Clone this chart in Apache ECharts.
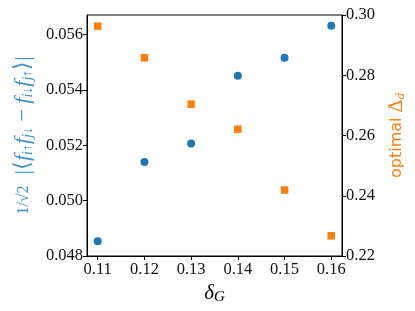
<!DOCTYPE html>
<html><head><meta charset="utf-8">
<script src="https://cdn.jsdelivr.net/npm/echarts@6/dist/echarts.min.js"></script>
<style>html,body{margin:0;padding:0;background:#fff}#c{width:415px;height:311px}</style>
</head><body><div id="c"></div>
<script>
const deltaG = [0.11, 0.12, 0.13, 0.14, 0.15, 0.16];
const pairing = [0.04853, 0.05139, 0.05206, 0.05451, 0.05516, 0.05631];
const optimalDelta = [0.2963, 0.2858, 0.2704, 0.2621, 0.2419, 0.2267];
const xTicks = [0.11, 0.12, 0.13, 0.14, 0.15, 0.16];
const leftTicks = [0.048, 0.050, 0.052, 0.054, 0.056];
const rightTicks = [0.22, 0.24, 0.26, 0.28, 0.30];

const serif = 'Liberation Serif';
const blue = '#3b8fc8';
const tickFont = {fontFamily: serif, fontSize: 16.5, color: '#111'};
const chart = echarts.init(document.getElementById('c'), null, {renderer: 'canvas'});
chart.setOption({
  animation: false,
  grid: {left: 87, right: 69, top: 15, bottom: 55, show: true, borderColor: '#000', borderWidth: 1, backgroundColor: 'transparent'},
  xAxis: {
    type: 'value', min: 0.1077, max: 0.1623,
    name: '{i|δ}{s|G}', nameLocation: 'middle', nameGap: 24,
    nameTextStyle: {rich: {
      i: {fontFamily: serif, fontStyle: 'italic', fontSize: 21, color: '#000', verticalAlign: 'middle'},
      s: {fontFamily: serif, fontStyle: 'italic', fontSize: 15, color: '#000', verticalAlign: 'bottom', padding: [8, 0, 0, 0]}
    }},
    axisLine: {show: true, onZero: false, lineStyle: {color: '#000', width: 1}},
    axisTick: {show: true, length: 4, lineStyle: {color: '#000'}, customValues: xTicks},
    axisLabel: Object.assign({margin: 5, customValues: xTicks, formatter: v => v.toFixed(2)}, tickFont),
    splitLine: {show: false}
  },
  yAxis: [{
    type: 'value', min: 0.048, max: 0.0567, position: 'left',
    name: '{fr|1/√2}{t|  |⟨}{i|f}{s|i↑}{i|f}{s|j↓}{t| − }{i|f}{s|i↓}{i|f}{s|j↑}{t|⟩|}',
    nameLocation: 'middle', nameGap: 52, nameRotate: 90,
    nameTextStyle: {rich: {
      fr: {fontFamily: serif, fontSize: 16, color: blue, verticalAlign: 'middle'},
      t: {fontFamily: serif, fontSize: 22, color: blue, verticalAlign: 'middle'},
      i: {fontFamily: serif, fontStyle: 'italic', fontSize: 22, color: blue, verticalAlign: 'middle'},
      s: {fontFamily: serif, fontStyle: 'italic', fontSize: 14, color: blue, verticalAlign: 'bottom', padding: [9, 0, 0, 0]}
    }},
    axisLine: {show: true, onZero: false, lineStyle: {color: '#000', width: 1}},
    axisTick: {show: true, length: 4, lineStyle: {color: '#000'}, customValues: leftTicks},
    axisLabel: Object.assign({margin: 4, customValues: leftTicks, formatter: v => v.toFixed(3)}, tickFont),
    splitLine: {show: false}
  }, {
    type: 'value', min: 0.22, max: 0.30, interval: 0.02, position: 'right',
    name: '{o|optimal }{i|Δ}{s|d}',
    nameLocation: 'middle', nameGap: 44, nameRotate: 90,
    nameTextStyle: {rich: {
      o: {fontFamily: 'DejaVu Sans', fontSize: 16, color: '#ff7f0e', verticalAlign: 'middle'},
      i: {fontFamily: serif, fontSize: 20, color: '#ff7f0e', verticalAlign: 'middle'},
      s: {fontFamily: serif, fontStyle: 'italic', fontSize: 13, color: '#ff7f0e', verticalAlign: 'bottom', padding: [8, 0, 0, 0]}
    }},
    axisLine: {show: true, onZero: false, lineStyle: {color: '#000', width: 1}},
    axisTick: {show: true, length: 4, lineStyle: {color: '#000'}, customValues: rightTicks},
    axisLabel: Object.assign({margin: 4, customValues: rightTicks, formatter: v => v.toFixed(2)}, tickFont),
    splitLine: {show: false}
  }],
  series: [{
    type: 'scatter', yAxisIndex: 0, symbol: 'circle', symbolSize: 8,
    itemStyle: {color: '#1f77b4', opacity: 1},
    data: deltaG.map((x, i) => [x, pairing[i]])
  }, {
    type: 'scatter', yAxisIndex: 1, symbol: 'rect', symbolSize: 7.5,
    itemStyle: {color: '#ff7f0e', opacity: 1},
    data: deltaG.map((x, i) => [x, optimalDelta[i]])
  }]
});
</script></body></html>
